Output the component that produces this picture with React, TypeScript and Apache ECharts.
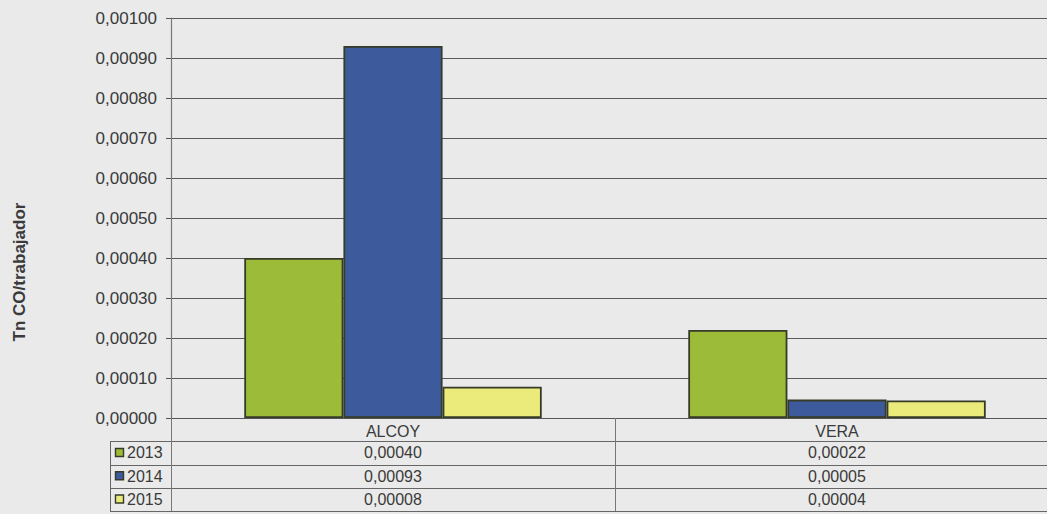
import React, { useEffect, useRef } from "react";
import * as echarts from "echarts";

const categories = ["ALCOY", "VERA"];
const years = ["2013", "2014", "2015"];
const values2013 = [0.0004, 0.00022];
const values2014 = [0.00093, 0.000046];
const values2015 = [0.000078, 0.000044];
const yTitle = "Tn CO/trabajador";
const colors = ["#9cbb38", "#3d5b9c", "#ebeb7c"];

const FONT = "'Liberation Sans', Arial, sans-serif";
const fmt = (v: number) => v.toFixed(5).replace(".", ",");

export default function App() {
  const ref = useRef<HTMLDivElement>(null);
  useEffect(() => {
    if (!ref.current) return;
    const chart = echarts.init(ref.current, null, { renderer: "svg" });
    const seriesValues = [values2013, values2014, values2015];
    chart.setOption({
      animation: false,
      backgroundColor: "#e9eae9",
      grid: { left: 171, top: 18, right: 0, bottom: 96 },
      xAxis: {
        type: "category",
        data: categories,
        axisLine: { show: true, lineStyle: { color: "#555", width: 1.2 } },
        axisTick: { show: true, interval: 0, length: 93, lineStyle: { color: "#777", width: 1 } },
        axisLabel: { color: "#3a3a3a", fontFamily: FONT, fontSize: 16, margin: 5 },
      },
      yAxis: {
        type: "value",
        min: 0,
        max: 0.001,
        interval: 0.0001,
        axisLine: { show: true, lineStyle: { color: "#777", width: 1.2 } },
        axisTick: { show: true, length: 5, lineStyle: { color: "#555" } },
        axisLabel: { color: "#3a3a3a", fontFamily: FONT, fontSize: 17, margin: 14, formatter: (v: number) => fmt(v) },
        splitLine: { show: true, lineStyle: { color: "#5a5a5a", width: 1 } },
      },
      series: years.map((y, i) => ({
        name: y,
        type: "bar",
        data: seriesValues[i],
        barGap: "0%",
        barCategoryGap: "33%",
        itemStyle: { color: colors[i], borderColor: "#363b28", borderWidth: 1.8 },
      })),
    });

    const base = chart.convertToPixel({ yAxisIndex: 0 }, 0) as number;
    const rowH = 23.3;
    const graphics: any[] = [];
    const tableLeft = 110;
    const right = 1059;
    for (let r = 1; r <= 4; r++) {
      const yy = Math.round(base + rowH * r) + 0.5;
      graphics.push({
        type: "line",
        shape: { x1: tableLeft, y1: yy, x2: right, y2: yy },
        style: { stroke: "#666", lineWidth: 1 },
      });
    }
    graphics.push({
      type: "line",
      shape: { x1: tableLeft + 0.5, y1: base + rowH, x2: tableLeft + 0.5, y2: base + rowH * 4 },
      style: { stroke: "#666", lineWidth: 1 },
    });
    years.forEach((y, r) => {
      const cy = base + rowH * (r + 1.5);
      graphics.push({
        type: "rect",
        shape: { x: 115.5, y: cy - 4.5, width: 8, height: 8 },
        style: { fill: colors[r], stroke: "#363b28", lineWidth: 1.4 },
      });
      graphics.push({
        type: "text",
        x: 127,
        y: cy,
        style: { text: y, fill: "#3a3a3a", font: `16px ${FONT}`, textAlign: "left", textVerticalAlign: "middle" },
      });
      categories.forEach((c, ci) => {
        const cx = chart.convertToPixel({ xAxisIndex: 0 }, c) as number;
        graphics.push({
          type: "text",
          x: cx,
          y: cy,
          style: {
            text: fmt(seriesValues[r][ci]),
            fill: "#3a3a3a",
            font: `16px ${FONT}`,
            textAlign: "center",
            textVerticalAlign: "middle",
          },
        });
      });
    });
    graphics.push({
      type: "text",
      x: 19,
      y: 272,
      rotation: Math.PI / 2,
      style: {
        text: yTitle,
        fill: "#3a3a3a",
        font: `bold 17px ${FONT}`,
        textAlign: "center",
        textVerticalAlign: "middle",
      },
    });
    chart.setOption({ graphic: graphics });
    return () => chart.dispose();
  }, []);
  return (
    <div style={{ position: "fixed", left: 0, top: 0, width: 1047, height: 514, overflow: "hidden" }}>
      <div ref={ref} style={{ width: 1059, height: 514 }} />
    </div>
  );
}
